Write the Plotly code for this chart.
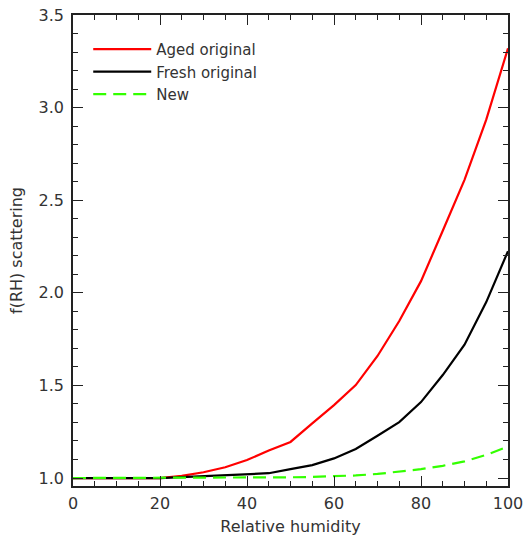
import plotly.graph_objects as go

rh = [0, 5, 10, 15, 20, 25, 30, 35, 40, 45, 50, 55, 60, 65, 70, 75, 80, 85, 90, 95, 100]
aged = [1.0, 1.0, 1.0, 1.0, 1.0, 1.012, 1.031, 1.058, 1.097, 1.149, 1.195, 1.295, 1.394, 1.502, 1.659, 1.848, 2.063, 2.335, 2.61, 2.935, 3.32]
fresh = [1.0, 1.0, 1.0, 1.0, 1.0, 1.005, 1.011, 1.016, 1.021, 1.026, 1.048, 1.07, 1.106, 1.157, 1.228, 1.302, 1.41, 1.556, 1.72, 1.95, 2.225]
new = [1.0, 1.0, 1.0, 1.0, 1.0, 1.0, 1.0, 1.0, 1.0, 1.002, 1.004, 1.006, 1.009, 1.014, 1.022, 1.035, 1.048, 1.066, 1.09, 1.125, 1.17]

names = ["Aged original", "Fresh original", "New"]
colors = ["#ff0000", "#000000", "#33ff00"]
dashes = ["solid", "solid", "13px,7px"]

fig = go.Figure()
for y, n, c, d in zip([aged, fresh, new], names, colors, dashes):
    fig.add_trace(go.Scatter(x=rh, y=y, mode="lines", name=n,
                             line=dict(color=c, width=2.2, dash=d)))

font = dict(family="DejaVu Sans", size=16, color="#333333")
axis_common = dict(showline=True, linecolor="#222222", linewidth=1.5, mirror="ticks",
                   ticks="inside", tickcolor="#222222", ticklen=10, tickwidth=1.2,
                   showgrid=False, zeroline=False, tickfont=font, automargin=False)

fig.update_xaxes(range=[0, 100], dtick=20, ticklabelstandoff=2,
                 title=dict(text="Relative humidity", font=font, standoff=9),
                 minor=dict(ticks="inside", dtick=5, ticklen=5, tickcolor="#222222", tickwidth=1.2),
                 **axis_common)
fig.update_yaxes(range=[0.957, 3.5], tick0=1.0, dtick=0.5, tickformat=".1f", ticklabelstandoff=4,
                 title=dict(text="f(RH) scattering", font=font, standoff=12),
                 minor=dict(ticks="inside", dtick=0.1, ticklen=5, tickcolor="#222222", tickwidth=1.2),
                 **axis_common)

fig.update_layout(
    width=525, height=537,
    margin=dict(l=73, r=17, t=15, b=51, autoexpand=False),
    plot_bgcolor="white", paper_bgcolor="white",
    font=font,
    showlegend=True,
    legend=dict(x=0.035, y=0.962, xanchor="left", yanchor="top",
                bgcolor="rgba(0,0,0,0)", font=dict(family="DejaVu Sans", size=15, color="#333333"),
                tracegroupgap=0, itemwidth=58),
)

fig.write_html("out.html", config={"displayModeBar": False},
               post_script="document.body.style.margin='0';document.body.style.overflow='hidden';")
